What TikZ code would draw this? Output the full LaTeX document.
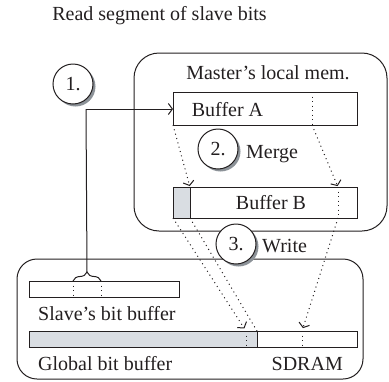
\documentclass[tikz,border=0pt]{standalone}
\usepackage{fontspec}
\setmainfont{Liberation Serif}
\usetikzlibrary{arrows.meta,shadows,decorations.pathreplacing}
\definecolor{ink}{RGB}{35,31,32}
\definecolor{cellgray}{RGB}{217,221,226}
\definecolor{shadowgray}{RGB}{140,146,152}
\begin{document}
\begin{tikzpicture}[x=1pt,y=-1pt,
  txt/.style={font=\fontsize{20pt}{24pt}\selectfont, text=ink, inner sep=0pt},
  memframe/.style={draw=ink, line width=1pt, inner sep=0pt, outer sep=0pt},
  bufbox/.style={draw=ink, line width=1pt, inner sep=0pt, outer sep=0pt, rectangle},
  stepcirc/.style={circle, draw=ink, line width=1pt, fill=white, minimum size=40pt,
    inner sep=0pt, font=\fontsize{20pt}{24pt}\selectfont, text=ink,
    drop shadow={shadow xshift=2.5pt, shadow yshift=-2.5pt, fill=shadowgray, opacity=1}},
  solidline/.style={draw=ink, line width=1pt},
  dotline/.style={draw=ink, line width=1pt, dash pattern=on 1pt off 3.5pt},
  tip/.style={-{Straight Barb[length=4pt,width=11pt,line width=1pt]}}
]
\useasboundingbox (0,0) rectangle (389,381);

% title
\node[txt, anchor=base] (title) at (159.5,20) {Read segment of slave bits};

% master's local memory
\node[memframe, rounded corners=25pt, minimum width=253pt, minimum height=178pt] (master) at (260.5,142) {};
\node[txt, anchor=base] (mastertxt) at (268,79) {Master's local mem.};

% buffer A
\node[bufbox, minimum width=184pt, minimum height=33pt] (bufA) at (265,108.5) {};
\node[txt, anchor=base] (bufAtxt) at (227.5,116) {Buffer A};

% buffer B with its filled head
\fill[cellgray] (173,187) rectangle (190,218);
\node[bufbox, minimum width=184pt, minimum height=31pt] (bufB) at (265,202.5) {};
\coordinate (bBsplit) at (190,187);
\coordinate (bBsplitlow) at (190,218);
\draw[solidline] (bBsplit) -- (bBsplitlow);
\node[txt, anchor=base] (bufBtxt) at (271,209) {Buffer B};

% SDRAM
\node[memframe, rounded corners=20pt, minimum width=346pt, minimum height=120pt] (sdram) at (190,319) {};
\node[bufbox, minimum width=150pt, minimum height=16pt] (slave) at (104,289) {};
\node[txt, anchor=base west] (slavetxt) at (38,320) {Slave's bit buffer};
\fill[cellgray] (29,331) rectangle (257,347);
\node[bufbox, minimum width=328pt, minimum height=16pt] (global) at (193,339) {};
\coordinate (gsplit) at (257,331);
\coordinate (gsplitlow) at (257,347);
\draw[solidline] (gsplit) -- (gsplitlow);
\node[txt, anchor=base west] (globaltxt) at (38,370) {Global bit buffer};
\node[txt, anchor=base east] (sdramtxt) at (343,370) {SDRAM};

% segment marks
\coordinate (sA) at (73,281);  \coordinate (sAlow) at (73,297);
\coordinate (sB) at (101,281); \coordinate (sBlow) at (101,297);
\draw[dotline] (sA) -- (sAlow);
\draw[dotline] (sB) -- (sBlow);
\draw[solidline, decorate, decoration={brace, amplitude=9pt}] (sA) -- (sB);
\coordinate (bracetip) at (87,272);

\coordinate (aMark) at (312,92);   \coordinate (aMarklow) at (312,125);
\coordinate (bMark) at (338,187);  \coordinate (bMarklow) at (338,218);
\coordinate (gMarkL) at (246,331); \coordinate (gMarkLlow) at (246,347);
\coordinate (gMarkR) at (302,331); \coordinate (gMarkRlow) at (302,347);
\draw[dotline] (aMark) -- (aMarklow);
\draw[dotline] (bMark) -- (bMarklow);
\draw[dotline] (gMarkL) -- (gMarkLlow);
\draw[dotline] (gMarkR) -- (gMarkRlow);

% step 1: read
\node[stepcirc] (c1) at (73,84) {1.};
\coordinate (corner) at (86,109);
\draw[solidline] (corner) -- (bracetip);
\draw[solidline, tip] (corner) -- (bufA.west |- corner);

% step 2: merge
\draw[dotline, tip, shorten >=1pt] (bufA.south west) -- (bBsplit);
\draw[dotline, tip, shorten >=1pt] (aMarklow) -- (bMark);
\node[stepcirc] (c2) at (218,149) {2.};
\node[txt, anchor=base west] (mergetxt) at (246,158) {Merge};

% step 3: write
\draw[dotline, tip, shorten >=3pt] (bufB.south west) -- (gMarkL);
\draw[dotline] (bBsplitlow) -- (gsplit);
\draw[dotline, tip, shorten >=3pt] (bMarklow) -- (gMarkR);
\node[stepcirc] (c3) at (236,244) {3.};
\node[txt, anchor=base west] (writetxt) at (262,252) {Write};
\end{tikzpicture}
\end{document}
